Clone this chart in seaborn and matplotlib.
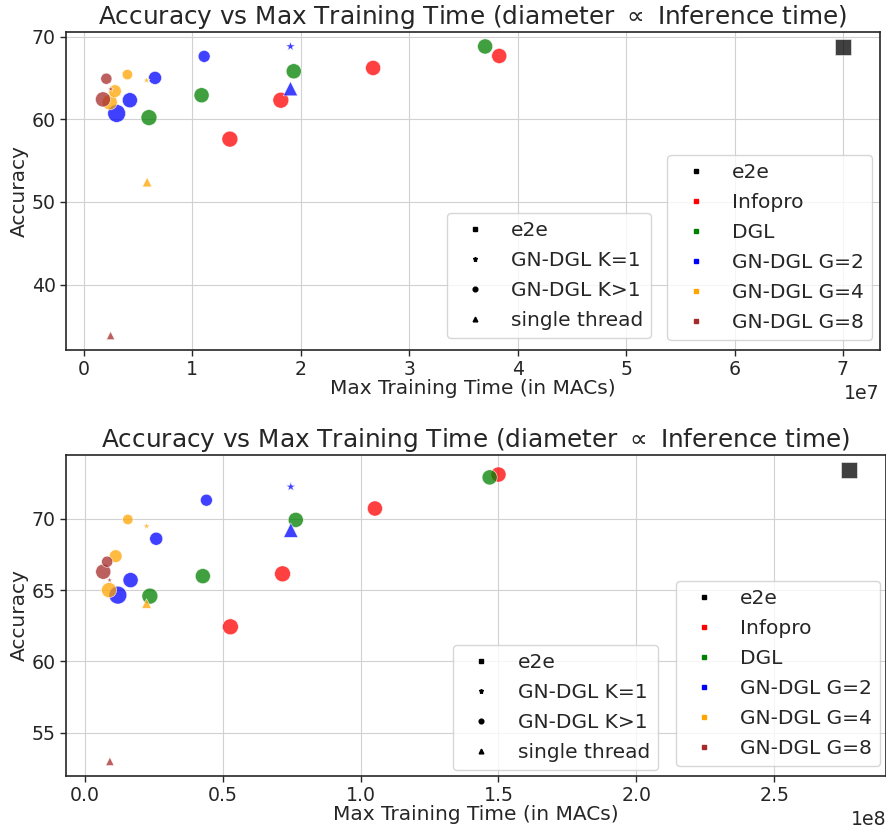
import numpy as np
import pandas as pd
import matplotlib
matplotlib.use("Agg")
import matplotlib.pyplot as plt
from matplotlib.lines import Line2D
from matplotlib.ticker import MultipleLocator
import seaborn as sns

# ---------------- data ----------------
methods = (["e2e"] + ["Infopro"] * 4 + ["DGL"] * 4 + ["GN-DGL G=2"] * 6
           + ["GN-DGL G=4"] * 5 + ["GN-DGL G=8"] * 4)
kinds = (["e2e"] + ["GN-DGL K>1"] * 4 + ["GN-DGL K>1"] * 4
         + ["GN-DGL K>1"] * 4 + ["GN-DGL K=1", "single thread"]
         + ["GN-DGL K>1"] * 3 + ["GN-DGL K=1", "single thread"]
         + ["GN-DGL K>1"] * 2 + ["GN-DGL K=1", "single thread"])
# relative inference time (diameter of the marker)
inference = [1.0,
             1.0, 1.0, 0.95, 0.95,
             1.0, 0.95, 0.95, 0.95,
             1.12, 0.95, 0.82, 0.75, 0.62, 0.9,
             0.95, 0.8, 0.65, 0.45, 0.6,
             0.95, 0.7, 0.38, 0.52]

top_time = [7.0e7,
            1.346e7, 1.816e7, 2.667e7, 3.83e7,
            0.60e7, 1.085e7, 1.935e7, 3.70e7,
            0.302e7, 0.424e7, 0.656e7, 1.109e7, 1.905e7, 1.905e7,
            0.238e7, 0.286e7, 0.401e7, 0.578e7, 0.583e7,
            0.176e7, 0.207e7, 0.248e7, 0.246e7]
top_acc = [68.75,
           57.6, 62.3, 66.2, 67.65,
           60.2, 62.9, 65.8, 68.8,
           60.7, 62.3, 65.0, 67.6, 68.8, 63.7,
           62.05, 63.4, 65.4, 64.7, 52.4,
           62.4, 64.9, 63.65, 33.85]

bot_time = [2.77e8,
            0.528e8, 0.717e8, 1.052e8, 1.50e8,
            0.236e8, 0.428e8, 0.765e8, 1.468e8,
            0.12e8, 0.166e8, 0.259e8, 0.441e8, 0.747e8, 0.747e8,
            0.088e8, 0.112e8, 0.156e8, 0.224e8, 0.224e8,
            0.067e8, 0.081e8, 0.09e8, 0.091e8]
bot_acc = [73.45,
           62.43, 66.14, 70.72, 73.1,
           64.58, 65.98, 69.92, 72.9,
           64.65, 65.7, 68.6, 71.3, 72.24, 69.2,
           65.0, 67.38, 69.95, 69.48, 64.06,
           66.29, 66.99, 65.7, 53.0]

hue_order = ["e2e", "Infopro", "DGL", "GN-DGL G=2", "GN-DGL G=4", "GN-DGL G=8"]
hue_colors = ["black", "red", "green", "blue", "orange", "brown"]
style_order = ["e2e", "GN-DGL K=1", "GN-DGL K>1", "single thread"]
style_markers = ["s", "*", "o", "^"]

title = r"Accuracy vs Max Training Time (diameter $\propto$ Inference time)"
xlabel = "Max Training Time (in MACs)"
ylabel = "Accuracy"

# ---------------- style ----------------
sns.set_style("whitegrid", {"axes.edgecolor": ".15", "xtick.bottom": True,
                            "ytick.left": True, "grid.color": ".82"})
plt.rcParams["font.family"] = ["DejaVu Sans"]

palette = dict(zip(hue_order, hue_colors))
markers = dict(zip(style_order, style_markers))

fig = plt.figure(figsize=(8.87, 8.27), dpi=100)
ax1 = fig.add_axes([0.0744, 0.5768, 0.9177, 0.3845])
ax2 = fig.add_axes([0.0744, 0.0617, 0.9245, 0.3882])

AREA_UNIT = 132.0  # points^2 for inference == 1


def draw(ax, times, accs, ystep, xstep, style_anchor, hue_anchor):
    df = pd.DataFrame({"time": times, "acc": accs, "method": methods,
                       "kind": kinds, "inf": inference})
    df["inf2"] = df["inf"] ** 2
    mx = df["inf2"].max()
    sns.scatterplot(data=df, x="time", y="acc", hue="method", style="kind",
                    size="inf2", hue_order=hue_order, style_order=style_order,
                    palette=palette, markers=markers,
                    sizes=(0, AREA_UNIT * mx), size_norm=(0, mx),
                    alpha=0.75, legend=False, ax=ax)
    ax.set_title(title, fontsize=17.8)
    ax.set_xlabel(xlabel, fontsize=14.5, labelpad=0)
    ax.set_ylabel(ylabel, fontsize=14.5, labelpad=2)
    ax.yaxis.set_major_locator(MultipleLocator(ystep))
    ax.xaxis.set_major_locator(MultipleLocator(xstep))
    ax.tick_params(labelsize=13.6, length=4, width=1, color=".15")
    ax.xaxis.get_offset_text().set_fontsize(13.6)
    for s in ax.spines.values():
        s.set_linewidth(1.2)

    sh = [Line2D([0], [0], marker=m, color="black", linestyle="",
                 markersize=ms)
          for m, ms in zip(style_markers, [3.2, 3.6, 3.4, 3.4])]
    leg1 = ax.legend(handles=sh, labels=style_order, loc="lower right",
                     bbox_to_anchor=style_anchor, borderaxespad=0,
                     fontsize=14.5, labelspacing=0.55)
    ax.add_artist(leg1)
    hh = [Line2D([0], [0], marker="s", color=c, linestyle="", markersize=3.4)
          for c in hue_colors]
    ax.legend(handles=hh, labels=hue_order, loc="lower right",
              bbox_to_anchor=hue_anchor, borderaxespad=0,
              fontsize=14.5, labelspacing=0.55)


draw(ax1, top_time, top_acc, 10, 1e7, (0.719, 0.038), (0.990, 0.031))
draw(ax2, bot_time, bot_acc, 5, 0.5e8, (0.722, 0.019), (0.993, 0.031))

fig.savefig("out.png", dpi=100)
